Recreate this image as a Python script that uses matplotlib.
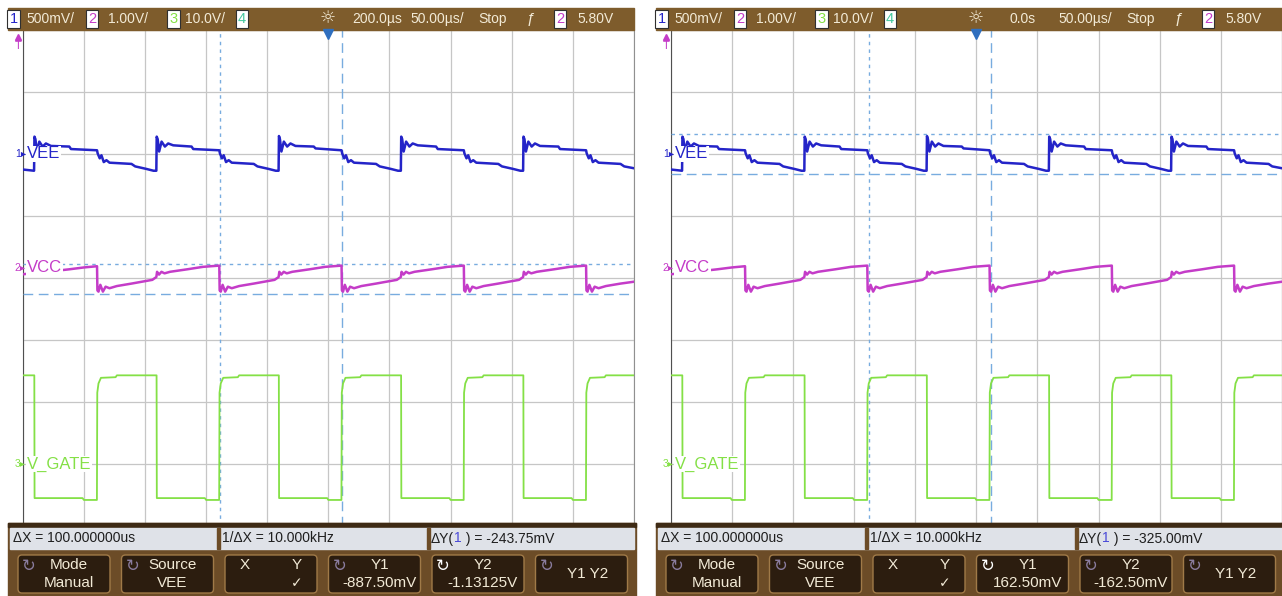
import matplotlib.pyplot as plt
from matplotlib.patches import Rectangle, FancyBboxPatch

W, H = 1282, 596
plt.rcParams['font.family'] = ['Liberation Sans', 'DejaVu Sans']

# traces, time in us from the left edge of the screen (10 div x 50 us/div)
gate_t = [0, 9.5, 9.7, 49, 50, 60.7, 61, 62, 64, 76, 77,
          109.5, 109.7, 149, 150, 160.7, 161, 162, 164, 176, 177,
          209.5, 209.7, 249, 250, 260.7, 261, 262, 264, 276, 277,
          309.5, 309.7, 349, 350, 360.7, 361, 362, 364, 376, 377,
          409.5, 409.7, 449, 450, 460.7, 461, 462, 464, 476, 477, 500]
gate_v = [14.3, 14.3, -5.5, -5.5, -5.8, -5.8, 11.5, 13.0, 13.9, 14.0, 14.3,
          14.3, -5.5, -5.5, -5.8, -5.8, 11.5, 13.0, 13.9, 14.0, 14.3,
          14.3, -5.5, -5.5, -5.8, -5.8, 11.5, 13.0, 13.9, 14.0, 14.3,
          14.3, -5.5, -5.5, -5.8, -5.8, 11.5, 13.0, 13.9, 14.0, 14.3,
          14.3, -5.5, -5.5, -5.8, -5.8, 11.5, 13.0, 13.9, 14.0, 14.3, 14.3]

vee_t = [0, 9.3,
         9.6, 10.4, 11.6, 13.6, 16.3, 19.0, 23.1, 38.1, 39.5, 60.8,
         61.3, 63, 64.4, 66.3, 68.5, 71, 89, 92, 101, 107, 109.3,
         109.6, 110.4, 111.6, 113.6, 116.3, 119.0, 123.1, 138.1, 139.5, 160.8,
         161.3, 163, 164.4, 166.3, 168.5, 171, 189, 192, 201, 207, 209.3,
         209.6, 210.4, 211.6, 213.6, 216.3, 219.0, 223.1, 238.1, 239.5, 260.8,
         261.3, 263, 264.4, 266.3, 268.5, 271, 289, 292, 301, 307, 309.3,
         309.6, 310.4, 311.6, 313.6, 316.3, 319.0, 323.1, 338.1, 339.5, 360.8,
         361.3, 363, 364.4, 366.3, 368.5, 371, 389, 392, 401, 407, 409.3,
         409.6, 410.4, 411.6, 413.6, 416.3, 419.0, 423.1, 438.1, 439.5, 460.8,
         461.3, 463, 464.4, 466.3, 468.5, 471, 489, 492, 500]
vee_v = [-0.125, -0.135,
         0.14, 0.12, 0.02, 0.10, 0.06, 0.085, 0.065, 0.06, 0.04, 0.03,
         0.005, -0.035, -0.01, -0.065, -0.05, -0.07, -0.08, -0.10, -0.12, -0.135, -0.135,
         0.14, 0.12, 0.02, 0.10, 0.06, 0.085, 0.07, 0.06, 0.04, 0.03,
         0.005, -0.035, -0.01, -0.065, -0.05, -0.07, -0.08, -0.10, -0.12, -0.135, -0.135,
         0.145, 0.12, 0.02, 0.10, 0.06, 0.085, 0.065, 0.06, 0.045, 0.03,
         0.005, -0.035, -0.01, -0.065, -0.05, -0.07, -0.08, -0.10, -0.12, -0.135, -0.135,
         0.14, 0.12, 0.02, 0.10, 0.06, 0.085, 0.07, 0.06, 0.04, 0.03,
         0.005, -0.035, -0.01, -0.065, -0.05, -0.07, -0.08, -0.10, -0.12, -0.135, -0.135,
         0.14, 0.12, 0.02, 0.10, 0.06, 0.085, 0.065, 0.06, 0.04, 0.03,
         0.005, -0.035, -0.01, -0.065, -0.05, -0.07, -0.08, -0.10, -0.115]

vcc_t = [0, 20, 38, 50, 60.8,
         61.1, 62, 63.5, 65.6, 67.8, 71, 77, 89, 106, 109.3,
         109.9, 111.5, 113.5, 116, 120.5, 134.5, 147.5, 160.8,
         161.1, 162, 163.5, 165.6, 167.8, 171, 177, 189, 206, 209.3,
         209.9, 211.5, 213.5, 216, 220.5, 234.5, 247.5, 260.8,
         261.1, 262, 263.5, 265.6, 267.8, 271, 277, 289, 306, 309.3,
         309.9, 311.5, 313.5, 316, 320.5, 334.5, 347.5, 360.8,
         361.1, 362, 363.5, 365.6, 367.8, 371, 377, 389, 406, 409.3,
         409.9, 411.5, 413.5, 416, 420.5, 434.5, 447.5, 460.8,
         461.1, 462, 463.5, 465.6, 467.8, 471, 477, 489, 500]
vcc_v = [0.06, 0.10, 0.14, 0.17, 0.19,
         -0.20, -0.22, -0.11, -0.22, -0.14, -0.165, -0.13, -0.09, -0.03, 0.015,
         0.10, 0.055, 0.10, 0.075, 0.10, 0.14, 0.18, 0.20,
         -0.20, -0.22, -0.11, -0.22, -0.14, -0.165, -0.13, -0.09, -0.03, 0.015,
         0.10, 0.055, 0.10, 0.075, 0.10, 0.14, 0.18, 0.20,
         -0.20, -0.22, -0.11, -0.22, -0.14, -0.165, -0.13, -0.09, -0.03, 0.015,
         0.10, 0.055, 0.10, 0.075, 0.10, 0.14, 0.18, 0.20,
         -0.20, -0.22, -0.11, -0.22, -0.14, -0.165, -0.13, -0.09, -0.03, 0.015,
         0.10, 0.055, 0.10, 0.075, 0.10, 0.14, 0.18, 0.20,
         -0.20, -0.22, -0.11, -0.22, -0.14, -0.165, -0.13, -0.09, -0.06]

# channel setup: volts/div and ground position (div above screen centre)
vee_scale, vee_ground = 0.5, 2
vcc_scale, vcc_ground = 1.0, 0
gate_scale, gate_ground = 10.0, -3

# cursors for the two captures (left, right)
delays = ['200.0µs', '0.0s']
cursor_x1 = [161, 162]
cursor_x2 = [261, 262]
cursor_y1 = [-0.8875, 0.1625]
cursor_y2 = [-1.13125, -0.1625]
delta_y = ['-243.75mV', '-325.00mV']
y1_text = ['-887.50mV', '162.50mV']
y2_text = ['-1.13125V', '-162.50mV']
active_knob = [4, 3]

BLUE = '#2424c8'
MAG = '#c43cc8'
GREEN = '#84e046'
CURSOR = '#78acdf'
HEAD = '#7e5c2c'
TXT = '#f2ead6'
INK = '#1e1e1e'


def px_rect(x, y, w, h):
    return [x / W, 1 - (y + h) / H, w / W, h / H]


def channel_axes(fig, rect, scale, ground):
    a = fig.add_axes(rect, zorder=2)
    a.set_xlim(0, 500)
    a.set_ylim((-4 - ground) * scale, (4 - ground) * scale)
    a.patch.set_alpha(0)
    a.axis('off')
    return a


fig = plt.figure(figsize=(W / 100, H / 100), dpi=100)
ui = fig.add_axes([0, 0, 1, 1], zorder=10)
ui.set_xlim(0, W)
ui.set_ylim(H, 0)
ui.patch.set_alpha(0)
ui.axis('off')

for i, x0 in enumerate([0, 648]):
    rect = px_rect(22.7 + x0, 30, 611.3, 496)

    # graticule
    base = fig.add_axes(rect, zorder=1)
    base.set_xlim(0, 500)
    base.set_ylim(-4, 4)
    base.set_xticks(range(0, 501, 50))
    base.set_yticks(range(-4, 5))
    base.grid(color='#c6c6c6', lw=0.9)
    base.tick_params(length=0, labelbottom=False, labelleft=False)
    for s in base.spines.values():
        s.set_visible(False)
    base.spines['left'].set_visible(True)
    base.spines['left'].set_color('#505050')
    base.spines['right'].set_visible(True)
    base.spines['right'].set_color('#909090')
    base.axvline(cursor_x1[i], color=CURSOR, lw=1, ls=(0, (2.5, 3)))
    base.axvline(cursor_x2[i], color=CURSOR, lw=1, ls=(0, (7, 4)))

    a1 = channel_axes(fig, rect, vee_scale, vee_ground)
    a1.plot(vee_t, vee_v, color=BLUE, lw=1.8)
    a1.axhline(cursor_y1[i], color=CURSOR, lw=1, ls=(0, (2.5, 3)))
    a1.axhline(cursor_y2[i], color=CURSOR, lw=1, ls=(0, (7, 4)))
    a2 = channel_axes(fig, rect, vcc_scale, vcc_ground)
    a2.plot(vcc_t, vcc_v, color=MAG, lw=1.8)
    a3 = channel_axes(fig, rect, gate_scale, gate_ground)
    a3.plot(gate_t, gate_v, color=GREEN, lw=1.3)

    # channel labels
    for yl, num, name, col in [(154, '1', 'VEE', BLUE), (268, '2', 'VCC', MAG),
                               (464, '3', 'V_GATE', GREEN)]:
        ui.text(x0 + 26, yl, num + '▸', color=col, fontsize=7.5, ha='right', va='center')
        ui.text(x0 + 27, yl, name, color=col, fontsize=12, va='center',
                bbox=dict(facecolor='white', edgecolor='none', pad=0.5))
    ui.plot(x0 + 328.3, 34, marker='v', color='#2f6fbf', ms=7)
    ui.plot(x0 + 18, 37, marker='^', color=MAG, ms=4)
    ui.text(x0 + 18, 46, 'T', color=MAG, fontsize=8, ha='center', va='center')

    # header bar
    ui.add_patch(Rectangle((x0 + 8, 8), 626, 22, color=HEAD, zorder=1))
    for cx, num, col in [(13.5, '1', BLUE), (92, '2', MAG), (173.5, '3', GREEN),
                         (242, '4', '#46c8a0'), (560, '2', MAG)]:
        ui.text(x0 + cx, 19, num, color=col, fontsize=10.5, ha='center', va='center',
                bbox=dict(facecolor='white', edgecolor='#303030', pad=1.5, lw=0.8))
    header = [(26, '500mV/'), (108, '1.00V/'), (185, '10.0V/'),
              (352 if i == 0 else 362, delays[i]), (410, '50.00µs/'),
              (478, 'Stop'), (577, '5.80V')]
    for hx, s in header:
        ui.text(x0 + hx, 19, s, color=TXT, fontsize=10, va='center')
    ui.text(x0 + 328, 18, '☼', color=TXT, fontsize=13, ha='center', va='center',
            family='DejaVu Sans')
    ui.text(x0 + 531, 19, 'ƒ', color=TXT, fontsize=11, ha='center', va='center')

    # softkey area
    ui.add_patch(Rectangle((x0 + 8, 523), 628, 73, color='#6c4c27', zorder=1))
    ui.add_patch(Rectangle((x0 + 8, 523), 628, 4, color='#3e2a14', zorder=1))
    ui.add_patch(Rectangle((x0 + 10, 528), 624, 21, color='#dfe2e8', zorder=2))
    for sx in [217, 427]:
        ui.add_patch(Rectangle((x0 + sx, 528), 3, 21, color='#6c4c27', zorder=3))
    ui.text(x0 + 13, 538.5, 'ΔX = 100.000000us', fontsize=10, va='center', color=INK)
    ui.text(x0 + 222, 538.5, '1/ΔX = 10.000kHz', fontsize=10, va='center', color=INK)
    t1 = ui.text(x0 + 431, 538.5, 'ΔY(', fontsize=10, va='center', color=INK)
    t2 = ui.annotate('1', xy=(1, 0.5), xycoords=t1, fontsize=10, va='center',
                     color='#4a4ad8')
    ui.annotate(' ) = ' + delta_y[i], xy=(1, 0.5), xycoords=t2, fontsize=10,
                va='center', color=INK)

    keys = [('Mode', 'Manual'), ('Source', 'VEE'), None, ('Y1', y1_text[i]),
            ('Y2', y2_text[i]), ('Y1 Y2', None)]
    for k, key in enumerate(keys):
        bx = x0 + 18 + 103.5 * k
        ui.add_patch(FancyBboxPatch((bx, 555), 92, 38,
                                    boxstyle='round,pad=0,rounding_size=4',
                                    facecolor='#2c1d0f', edgecolor='#a07a48', lw=1, zorder=2))
        if key is None:
            ui.text(bx + 20, 565, 'X', color=TXT, fontsize=11, ha='center', va='center')
            ui.text(bx + 72, 565, 'Y', color=TXT, fontsize=11, ha='center', va='center')
            ui.text(bx + 72, 583, '✓', color=TXT, fontsize=10, ha='center', va='center',
                    family='DejaVu Sans')
            continue
        ui.text(bx + 11, 566, '↻', color='#ffffff' if k == active_knob[i] else '#8a7c9e',
                fontsize=12, ha='center', va='center', family='DejaVu Sans')
        if key[1] is None:
            ui.text(bx + 52, 574, key[0], color=TXT, fontsize=11, ha='center', va='center')
        else:
            ui.text(bx + 51, 565, key[0], color=TXT, fontsize=11, ha='center', va='center')
            ui.text(bx + 51, 583, key[1], color=TXT, fontsize=11, ha='center', va='center')

fig.savefig('out.png', dpi=100, facecolor='white')
